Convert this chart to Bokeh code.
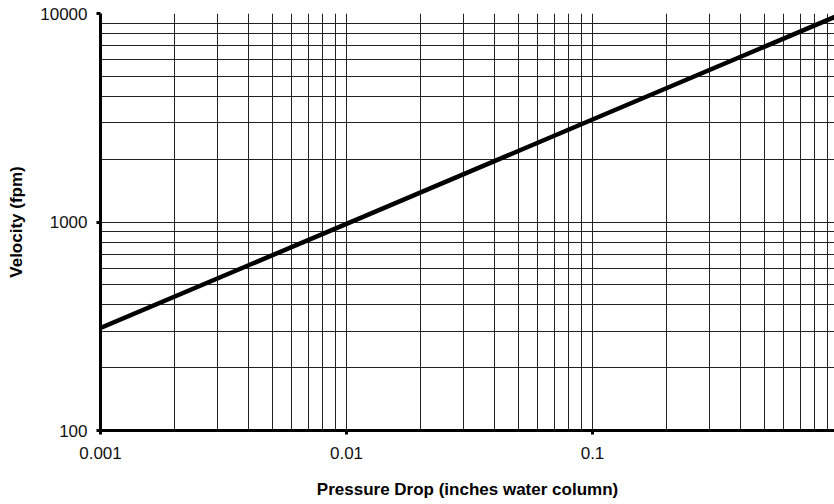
from bokeh.plotting import figure
from bokeh.models import FixedTicker, Range1d
from bokeh.embed import file_html
from bokeh.resources import INLINE

# Data
pressure_drop = [0.001, 0.01, 0.1, 1.0]
velocity = [310, 980, 3100, 9800]

x_major = [0.001, 0.01, 0.1, 1.0]
x_labels = {0.001: "0.001", 0.01: "0.01", 0.1: "0.1", 1.0: "1"}
y_major = [100, 1000, 10000]
y_labels = {100: "100", 1000: "1000", 10000: "10000"}
mantissas = [2, 3, 4, 5, 6, 7, 8, 9]
x_minor = [m * d for d in [0.001, 0.01, 0.1] for m in mantissas]
y_minor = [m * d for d in [100, 1000] for m in mantissas]

FONT = "Liberation Sans"

p = figure(width=834, height=504, x_axis_type="log", y_axis_type="log",
           x_range=Range1d(0.001, 0.963), y_range=Range1d(100, 10000),
           output_backend="svg", toolbar_location=None,
           min_border_left=100, min_border_right=0, min_border_top=13, min_border_bottom=74)

p.outline_line_color = None
p.background_fill_color = "white"

p.xaxis.ticker = FixedTicker(ticks=x_major, minor_ticks=x_minor)
p.yaxis.ticker = FixedTicker(ticks=y_major, minor_ticks=y_minor)
p.xaxis.major_label_overrides = x_labels
p.yaxis.major_label_overrides = y_labels

for ax in (p.xaxis, p.yaxis):
    ax.axis_line_width = 3
    ax.axis_line_color = "black"
    ax.major_tick_line_width = 3
    ax.major_tick_line_color = "black"
    ax.major_tick_out = 4
    ax.major_tick_in = 0
    ax.minor_tick_line_color = None
    ax.major_label_text_font = FONT
    ax.major_label_text_font_size = "17px"
    ax.major_label_text_color = "#111111"
    ax.axis_label_text_font = FONT
    ax.axis_label_text_font_size = "17px"
    ax.axis_label_text_font_style = "bold"
    ax.axis_label_text_color = "black"

p.xaxis.major_label_standoff = 12
p.yaxis.major_label_standoff = 9
p.xaxis.axis_label = "Pressure Drop (inches water column)"
p.yaxis.axis_label = "Velocity (fpm)"
p.xaxis.axis_label_standoff = 18
p.yaxis.axis_label_standoff = 11

for g in (p.xgrid, p.ygrid):
    g.grid_line_color = "#222222"
    g.grid_line_width = 1
    g.minor_grid_line_color = "#222222"
    g.minor_grid_line_width = 1

p.line(pressure_drop, velocity, line_color="black", line_width=4.5)

open("out.html", "w").write(file_html(p, INLINE))
